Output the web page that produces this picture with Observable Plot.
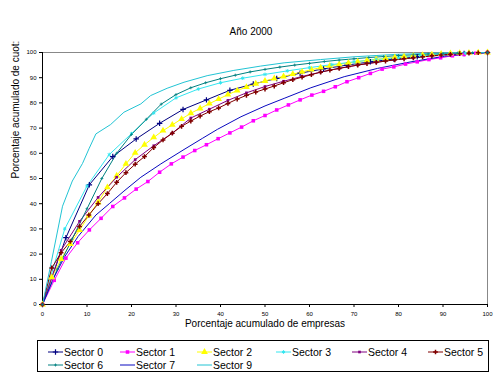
<!DOCTYPE html>
<html>
<head>
<meta charset="utf-8">
<script src="https://cdn.jsdelivr.net/npm/d3@7"></script>
<script src="https://cdn.jsdelivr.net/npm/@observablehq/plot@0.6"></script>
<style>
  html, body { margin: 0; padding: 0; background: #fff; }
  #wrap { position: relative; width: 498px; height: 380px; font-family: "Liberation Sans", Arial, sans-serif; }
  #legend { position: absolute; left: 37px; top: 340px; width: 452px; height: 32px; border: 1px solid #000; box-sizing: border-box; }
  .item { position: absolute; height: 12px; display: flex; align-items: center; font-size: 10.5px; color: #000; white-space: nowrap; }
  .item svg { margin-right: 1px; }
</style>
</head>
<body>
<div id="wrap"><div id="chart"></div><div id="legend"></div></div>
<script>
// ---- data ----
const title = "Año 2000";
const xLabel = "Porcentaje acumulado de empresas";
const yLabel = "Porcentaje acumulado de cuot:";
const xTicks = [0, 10, 20, 30, 40, 50, 60, 70, 80, 90, 100];
const yTicks = [0, 10, 20, 30, 40, 50, 60, 70, 80, 90, 100];
const sectorNames = ["Sector 0", "Sector 1", "Sector 2", "Sector 3", "Sector 4", "Sector 5", "Sector 6", "Sector 7", "Sector 9"];

const x0 = [0,5.26,10.53,15.79,21.05,26.32,31.58,36.84,42.11,47.37,52.63,57.89,63.16,68.42,73.68,78.95,84.21,89.47,94.74,100];
const y0 = [0,26.5,47.5,58.7,65.7,71.9,77.4,81.2,85,87.5,89.7,91.8,93.5,95,96.3,97.4,98.3,99,99.6,100];

const x1 = [0,2.63,5.26,7.89,10.53,13.16,15.79,18.42,21.05,23.68,26.32,28.95,31.58,34.21,36.84,39.47,42.11,44.74,47.37,50,52.63,55.26,57.89,60.53,63.16,65.79,68.42,71.05,73.68,76.32,78.95,81.58,84.21,86.84,89.47,92.11,94.74,97.37,100];
const y1 = [0,9.6,18.4,24.5,29.6,34.2,38.9,42.3,45.8,48.8,52.5,55.8,58.5,61.1,63.4,65.8,68.1,70.4,72.9,75,77.2,79.2,81.2,83.1,84.6,86.4,88.4,90,91.7,93.4,94.3,95.4,96.3,97.2,97.9,98.7,99.2,99.7,100];

const x2 = [0,2.08,4.17,6.25,8.33,10.42,12.5,14.58,16.67,18.75,20.83,22.92,25,27.08,29.17,31.25,33.33,35.42,37.5,39.58,41.67,43.75,45.83,47.92,50,52.08,54.17,56.25,58.33,60.42,62.5,64.58,66.67,68.75,70.83,72.92,75,77.08,79.17,81.25,83.33,85.42,87.5,89.58,91.67,93.75,95.83,97.92,100];
const y2 = [0,10.8,18,24,29.5,35.3,40.6,46.5,51.1,55.8,60.2,63.4,66.3,69,71.3,73.6,75.9,77.8,79.7,81.5,83.3,84.9,86.3,87.6,88.7,89.7,90.5,91.4,92.3,93.2,94,94.7,95.3,95.9,96.4,96.9,97.3,97.7,98.1,98.4,98.7,99,99.2,99.4,99.6,99.75,99.85,99.95,100];

const x3 = [0,5,10,15,20,25,30,35,40,45,50,55,60,65,70,75,80,85,90,95,100];
const y3 = [0,30,47,59.5,67.8,76,82,85.5,88,89.8,91.3,92.7,94,95.2,96.3,97.2,98,98.7,99.3,99.7,100];

const x4 = [0,4.17,8.33,12.5,16.67,20.83,25,29.17,33.33,37.5,41.67,45.83,50,54.17,58.33,62.5,66.67,70.83,75,79.17,83.33,87.5,91.67,95.83,100];
const y4 = [0,21.5,33,42.5,50.5,57.5,63,68,74,77.5,81,84,86.5,88.6,90.5,92.2,93.7,95,96.1,97.1,97.9,98.6,99.2,99.7,100];

const x5 = [0,2.08,4.17,6.25,8.33,10.42,12.5,14.58,16.67,18.75,20.83,22.92,25,27.08,29.17,31.25,33.33,35.42,37.5,39.58,41.67,43.75,45.83,47.92,50,52.08,54.17,56.25,58.33,60.42,62.5,64.58,66.67,68.75,70.83,72.92,75,77.08,79.17,81.25,83.33,85.42,87.5,89.58,91.67,93.75,95.83,97.92,100];
const y5 = [0,14.5,20.5,25,31,35.5,40,44,48.5,52.3,55.7,58.7,62.3,65.3,68,70.7,72.8,74.8,76.5,78,79.8,81.5,83,84.3,85.5,86.7,88,89.2,90.2,91.2,92.2,93,93.7,94.4,95,95.6,96.1,96.6,97.1,97.5,97.9,98.3,98.7,99,99.3,99.55,99.75,99.9,100];

const x6 = [0,3.33,6.67,10,13.33,16.67,20,23.33,26.67,30,33.33,36.67,40,43.33,46.67,50,53.33,56.67,60,63.33,66.67,70,73.33,76.67,80,83.33,86.67,90,93.33,96.67,100];
const y6 = [0,14,26,38,50,60,67.5,73.5,79.5,83.3,86,88,89.6,91,92.3,93.3,94.2,95,95.7,96.4,97,97.5,98,98.4,98.8,99.1,99.4,99.6,99.8,99.9,100];

const x7 = [0,2.5,5,8,12,15,18.3,22.1,26.6,31.8,36,39.3,44.6,50,54.3,60.3,67.8,75.3,82.8,90.3,95,100];
const y7 = [0,10.5,19,27,35.5,40,45,50.5,55.8,61.5,66,69.5,74.5,78.8,81.8,86,90.4,93.7,96.3,98.5,99.4,100];

const x9 = [0,2,4.5,6.7,9,10.5,12,15.3,18.3,22.1,24.3,28,31.8,37,43,49,54.3,62.5,70,80,90,100];
const y9 = [0,17,39,49,56,62,67.7,71.4,76.3,79.6,82.9,85.8,88.2,90.8,92.9,94.6,95.9,97.2,98.3,99.3,99.8,100];

// ---- styles ----
const styles = [
  {color: "#000080", symbol: "plus", r: 1.9, filled: false, sw: 1.2},
  {color: "#FF00FF", symbol: "square", r: 2.0, filled: true},
  {color: "#FFFF00", symbol: "triangle", r: 2.5, filled: true},
  {color: "#33E6F0", symbol: "asterisk", r: 1.7, filled: false, sw: 1},
  {color: "#800080", symbol: "square", r: 1.5, filled: true},
  {color: "#800000", symbol: "plus", r: 1.65, filled: false, sw: 1.5},
  {color: "#008080", symbol: "plus", r: 1.05, filled: false, sw: 0.8},
  {color: "#0A0AC0", symbol: null},
  {color: "#22C4D4", symbol: null}
];
const xs = [x0, x1, x2, x3, x4, x5, x6, x7, x9];
const ys = [y0, y1, y2, y3, y4, y5, y6, y7, y9];

const series = sectorNames.map((name, i) => ({
  name, ...styles[i],
  data: xs[i].map((x, k) => ({x, y: ys[i][k]}))
}));

const marks = [
  Plot.frame({stroke: "#888", strokeWidth: 1}),
  Plot.axisX({ticks: xTicks, tickSize: 3, tickPadding: 4, tickFormat: d => d, label: null, fontSize: 6}),
  Plot.axisY({ticks: yTicks, tickSize: 3, tickPadding: 3, tickFormat: d => d, label: null, fontSize: 6}),
  Plot.ruleX([0], {stroke: "#000"}),
  Plot.ruleY([0], {stroke: "#000"}),
  Plot.text([title], {frameAnchor: "top", dy: -25, dx: -14, fontSize: 10, text: d => d}),
  Plot.text([xLabel], {frameAnchor: "bottom", dy: 22, fontSize: 10, text: d => d}),
  Plot.text([yLabel], {frameAnchor: "left", dx: -27, rotate: -90, fontSize: 10, text: d => d})
];
for (const s of series) {
  marks.push(Plot.line(s.data, {x: "x", y: "y", stroke: s.color, strokeWidth: 1}));
}
for (const s of series) {
  if (!s.symbol) continue;
  marks.push(Plot.dot(s.data, {
    x: "x", y: "y", symbol: s.symbol, r: s.r,
    fill: s.filled ? s.color : "none",
    stroke: s.filled ? "none" : s.color,
    strokeWidth: s.sw || 1
  }));
}

const chart = Plot.plot({
  width: 498, height: 338,
  marginTop: 52, marginBottom: 34, marginLeft: 42, marginRight: 11,
  x: {domain: [0, 100]},
  y: {domain: [0, 100]},
  style: {fontFamily: "'Liberation Sans', Arial, sans-serif", background: "#fff", color: "#000", overflow: "visible"},
  marks
});
document.getElementById("chart").appendChild(chart);

// ---- legend ----
const symMap = {plus: d3.symbolPlus, square: d3.symbolSquare, triangle: d3.symbolTriangle, asterisk: d3.symbolAsterisk};
const colLeft = [10, 82, 159, 238, 314, 390];
const legend = document.getElementById("legend");
series.forEach((s, i) => {
  const row = i < 6 ? 0 : 1;
  const col = i < 6 ? i : i - 6;
  const div = document.createElement("div");
  div.className = "item";
  div.style.left = colLeft[col] + "px";
  div.style.top = (row === 0 ? 5 : 18) + "px";
  let sym = "";
  if (s.symbol) {
    const path = d3.symbol().type(symMap[s.symbol]).size(Math.PI * s.r * s.r)();
    sym = `<path transform="translate(7.5,5)" d="${path}" fill="${s.filled ? s.color : "none"}" stroke="${s.filled ? "none" : s.color}" stroke-width="${s.sw || 1}"/>`;
  }
  div.innerHTML = `<svg width="15" height="10"><line x1="0" x2="15" y1="5" y2="5" stroke="${s.color}" stroke-width="1"/>${sym}</svg><span>${s.name}</span>`;
  legend.appendChild(div);
});
</script>
</body>
</html>
